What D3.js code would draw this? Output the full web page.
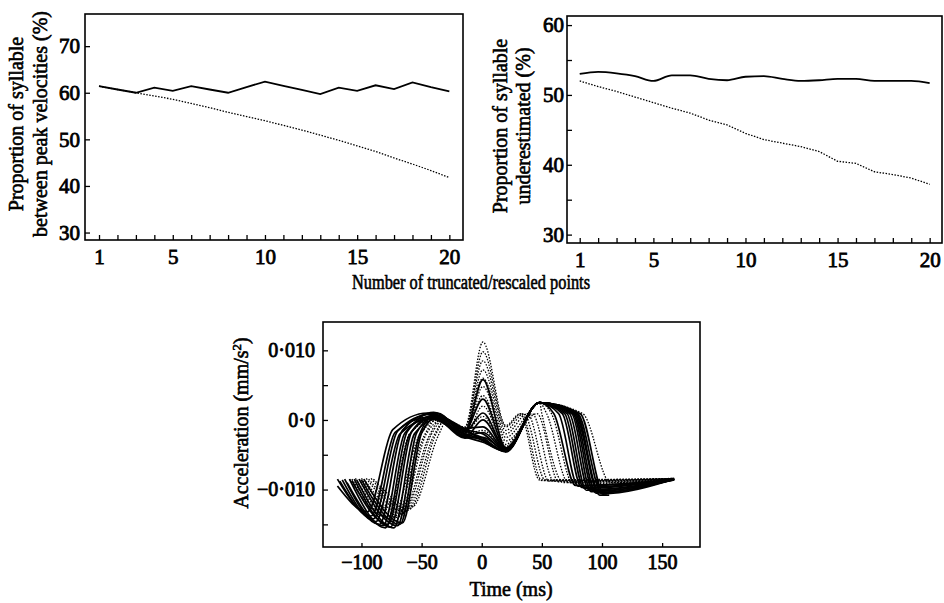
<!DOCTYPE html>
<html>
<head>
<meta charset="utf-8">
<script src="https://cdn.jsdelivr.net/npm/d3@7"></script>
<style>
  body { margin: 0; background: #fff; }
  svg { display: block; }
  text { font-family: "Liberation Serif", "Times New Roman", serif; fill: #000; }
</style>
</head>
<body>
<script>
// points truncated/rescaled (x axis of the two top panels)
var nPoints = d3.range(1, 21);

// top-left: proportion between peak velocities (%)
var peakVelSolid  = [61.4, 60.7, 60.0, 61.1, 60.4, 61.4, 60.7, 60.0, 61.2, 62.4, 61.5, 60.6, 59.7, 61.1, 60.4, 61.6, 60.8, 62.2, 61.2, 60.3];
var peakVelDotted = [61.4, 60.7, 60.0, 59.3, 58.6, 57.7, 56.8, 55.8, 54.9, 54.0, 53.0, 52.0, 50.9, 49.8, 48.6, 47.4, 46.0, 44.7, 43.3, 41.8];

// top-right: proportion underestimated (%)
var underSolid  = [53.0, 53.3, 53.1, 52.7, 52.0, 52.8, 52.8, 52.3, 52.1, 52.6, 52.7, 52.3, 52.0, 52.1, 52.3, 52.3, 52.0, 52.0, 52.0, 51.7];
var underDotted = [52.0, 51.2, 50.5, 49.7, 48.9, 48.1, 47.4, 46.4, 45.7, 44.5, 43.6, 43.1, 42.6, 41.9, 40.5, 40.2, 39.0, 38.6, 38.1, 37.2];

var leftYTicks  = [30, 40, 50, 60, 70];
var rightYTicks = [30, 35, 40, 45, 50, 55, 60];
var rightYLabels = [30, 40, 50, 60];
var xTickLabels = [1, 5, 10, 15, 20];

// bottom panel: acceleration traces, one entry per trace
var traceMethod = ["truncated","truncated","truncated","truncated","truncated","truncated","truncated","truncated","truncated","truncated","truncated","truncated","truncated",
                   "rescaled","rescaled","rescaled","rescaled","rescaled","rescaled","rescaled","rescaled","rescaled","rescaled"];
var traceStart  = [-120, -120, -118, -116, -114, -112, -110, -108, -106, -104, -102, -100, -98, -110, -108, -105, -102, -100, -98, -96, -94, -92, -90];
var traceStartY = [-0.0095, -0.0085, -0.0088, -0.0086, -0.0085, -0.0090, -0.0085, -0.0087, -0.0085, -0.0086, -0.0085, -0.0086, -0.0085,
                   -0.0085, -0.0085, -0.0084, -0.0085, -0.0084, -0.0085, -0.0084, -0.0085, -0.0084, -0.0085];
var traceMinT   = [-95, -92, -90, -88, -85, -82, -80, -78, -76, -73, -70, -68, -66, -78, -75, -72, -70, -68, -66, -64, -62, -60, -58];
var traceMinY   = [-0.0132, -0.0138, -0.0142, -0.0146, -0.0150, -0.0152, -0.0155, -0.0150, -0.0154, -0.0155, -0.0152, -0.0150, -0.0148,
                   -0.0140, -0.0142, -0.0145, -0.0140, -0.0138, -0.0135, -0.0132, -0.0130, -0.0128, -0.0125];
var traceRiseT  = [-74, -72, -70, -68, -66, -64, -62, -60, -58, -56, -54, -52, -50, -60, -52, -50, -48, -46, -44, -42, -40, -38, -36];
var traceRiseY  = [-0.0014, -0.0018, -0.0016, -0.0020, -0.0015, -0.0019, -0.0017, -0.0021, -0.0016, -0.0020, -0.0018, -0.0022, -0.0019,
                   -0.0020, -0.0022, -0.0019, -0.0023, -0.0020, -0.0024, -0.0021, -0.0023, -0.0020, -0.0022];
var tracePlatT  = [-45, -44, -43, -42, -42, -41, -40, -40, -39, -38, -38, -37, -37, -38, -37, -36, -35, -34, -33, -32, -31, -30, -29];
var tracePlatY  = [0.0010, 0.0004, 0.0008, 0.0002, 0.0009, 0.0005, 0.0011, 0.0003, 0.0007, 0.0001, 0.0006, 0.0010, 0.0004,
                   0.0002, 0.0006, 0.0000, 0.0004, -0.0001, 0.0003, 0.0000, -0.0002, 0.0002, -0.0001];
var tracePreY   = [-0.0013, -0.0020, -0.0016, -0.0024, -0.0014, -0.0022, -0.0012, -0.0026, -0.0017, -0.0023, -0.0015, -0.0019, -0.0025,
                   -0.0021, -0.0017, -0.0023, -0.0015, -0.0020, -0.0013, -0.0018, -0.0011, -0.0016, -0.0010];
var tracePeak0  = [-0.0030, -0.0028, -0.0026, -0.0032, -0.0020, -0.0029, -0.0010, -0.0025, 0.0010, -0.0018, 0.0030, 0.0058, 0.0000,
                   -0.0015, 0.0005, 0.0020, 0.0035, 0.0048, 0.0060, 0.0072, 0.0085, 0.0098, 0.0112];
var traceDip20  = [-0.0045, -0.0045, -0.0046, -0.0045, -0.0044, -0.0045, -0.0043, -0.0044, -0.0042, -0.0043, -0.0041, -0.0040, -0.0042,
                   -0.0040, -0.0040, -0.0038, -0.0035, -0.0030, -0.0025, -0.0020, -0.0015, -0.0010, -0.0008];
var traceFallT  = [82, 80, 79, 78, 77, 76, 75, 73, 71, 69, 67, 64, 60, 84, 58, 54, 50, 46, 42, 38, 35, 33, 32];
var traceBotT   = [102, 100, 98, 97, 95, 93, 91, 89, 87, 85, 83, 80, 78, 107, 76, 72, 68, 64, 60, 56, 53, 50, 48];
var traceBotY   = [-0.0108, -0.0106, -0.0108, -0.0104, -0.0105, -0.0102, -0.0103, -0.0100, -0.0101, -0.0098, -0.0097, -0.0095, -0.0094,
                   -0.0090, -0.0092, -0.0090, -0.0090, -0.0089, -0.0088, -0.0088, -0.0087, -0.0087, -0.0086];
var traceEndT   = [106, 160, 104, 160, 160, 160, 160, 160, 160, 160, 160, 160, 160, 160, 160, 160, 160, 160, 160, 160, 160, 160, 160];
var traceEndY   = [-0.0108, -0.0085, -0.0108, -0.0085, -0.0085, -0.0086, -0.0085, -0.0085, -0.0086, -0.0085, -0.0085, -0.0085, -0.0086,
                   -0.0084, -0.0085, -0.0085, -0.0084, -0.0085, -0.0084, -0.0085, -0.0084, -0.0085, -0.0084];
// shared levels: hump near 50 ms, fall start
var shapeLevels = [0.0025, 0.0009];

var accTicks = [-0.015, -0.010, -0.005, 0, 0.005, 0.010];
var accLabelValues = [-0.010, 0, 0.010];
var accLabels = ["\u22120\u00b7010", "0\u00b70", "0\u00b7010"];
var timeTicks = [-100, -50, 0, 50, 100, 150];

var W = 944, H = 603;
var svg = d3.select("body").append("svg").attr("width", W).attr("height", H);

function frame(g, x0, y0, x1, y1) {
  g.append("rect").attr("x", x0).attr("y", y0).attr("width", x1 - x0).attr("height", y1 - y0)
    .attr("fill", "none").attr("stroke", "#000").attr("stroke-width", 1.6);
}

function styleAxis(a, size) {
  a.select(".domain").remove();
  a.selectAll(".tick line").attr("stroke", "#000").attr("stroke-width", 1.3);
  a.selectAll(".tick text").attr("font-size", size).attr("fill", "#000")
    .attr("stroke", "#000").attr("stroke-width", 0.8);
}

function rotTitle(lines, xs, cy, size) {
  lines.forEach(function(t, i) {
    svg.append("text").attr("transform", "translate(" + xs[i] + "," + cy + ") rotate(-90)")
      .attr("text-anchor", "middle").attr("font-size", size)
      .attr("stroke", "#000").attr("stroke-width", 0.6).text(t);
  });
}

// ---------- top-left panel
var x1 = d3.scaleLinear().domain([0.24, 20.74]).range([85, 463]);
var y1 = d3.scaleLinear().domain([28.4, 76.9]).range([240, 14]);
var g1 = svg.append("g");

g1.append("g").attr("transform", "translate(0,240)")
  .call(d3.axisBottom(x1).tickValues(nPoints).tickSize(-5).tickPadding(9)
        .tickFormat(function(d) { return xTickLabels.indexOf(d) >= 0 ? d : ""; }))
  .call(styleAxis, 21);
g1.append("g").attr("transform", "translate(85,0)")
  .call(d3.axisLeft(y1).tickValues(leftYTicks).tickSize(-5).tickPadding(5))
  .call(styleAxis, 21);

var line1 = d3.line().x(function(d, i) { return x1(nPoints[i]); }).y(function(d) { return y1(d); });
g1.append("path").datum(peakVelDotted).attr("d", line1).attr("fill", "none")
  .attr("stroke", "#000").attr("stroke-width", 1.3).attr("stroke-dasharray", "1.5,1.5");
g1.append("path").datum(peakVelSolid).attr("d", line1).attr("fill", "none")
  .attr("stroke", "#000").attr("stroke-width", 1.8);
frame(g1, 85, 14, 463, 240);
rotTitle(["Proportion of syllable", "between peak velocities (%)"], [23, 47], 124, 20);

// ---------- top-right panel
var x2 = d3.scaleLinear().domain([0.31, 20.67]).range([567, 942]);
var y2 = d3.scaleLinear().domain([28.8, 61.3]).range([243, 16]);
var g2 = svg.append("g");

g2.append("g").attr("transform", "translate(0,243)")
  .call(d3.axisBottom(x2).tickValues(nPoints).tickSize(-5).tickPadding(9)
        .tickFormat(function(d) { return xTickLabels.indexOf(d) >= 0 ? d : ""; }))
  .call(styleAxis, 21);
g2.append("g").attr("transform", "translate(567,0)")
  .call(d3.axisLeft(y2).tickValues(rightYTicks).tickSize(-5).tickPadding(3)
        .tickFormat(function(d) { return rightYLabels.indexOf(d) >= 0 ? d : ""; }))
  .call(styleAxis, 21);

var line2 = d3.line().x(function(d, i) { return x2(nPoints[i]); }).y(function(d) { return y2(d); });
g2.append("path").datum(underDotted).attr("d", line2).attr("fill", "none")
  .attr("stroke", "#000").attr("stroke-width", 1.3).attr("stroke-dasharray", "1.5,1.5");
g2.append("path").datum(underSolid).attr("d", line2.curve(d3.curveMonotoneX)).attr("fill", "none")
  .attr("stroke", "#000").attr("stroke-width", 1.8);
frame(g2, 567, 16, 942, 243);
rotTitle(["Proportion of syllable", "underestimated (%)"], [507, 530], 126, 20);

svg.append("text").attr("x", 471).attr("y", 289).attr("text-anchor", "middle")
  .attr("font-size", 20).attr("textLength", 238).attr("lengthAdjust", "spacingAndGlyphs")
  .attr("stroke", "#000").attr("stroke-width", 0.6)
  .text("Number of truncated/rescaled points");

// ---------- bottom panel
var x3 = d3.scaleLinear().domain([-132, 181.5]).range([323, 700]);
var y3 = d3.scaleLinear().domain([-0.01825, 0.01407]).range([547, 322]);
var g3 = svg.append("g");

var clip = svg.append("clipPath").attr("id", "c3");
clip.append("rect").attr("x", 323).attr("y", 322).attr("width", 377).attr("height", 225);

function tracePoints(i) {
  var p = [[traceStart[i], traceStartY[i]], [traceMinT[i], traceMinY[i]],
           [traceRiseT[i], traceRiseY[i]], [tracePlatT[i], tracePlatY[i]],
           [-14, tracePreY[i]], [1, tracePeak0[i]], [20, traceDip20[i]]];
  if (traceFallT[i] > 48) p.push([48, shapeLevels[0]]);
  p.push([traceFallT[i], shapeLevels[1]], [traceBotT[i], traceBotY[i]]);
  if (traceEndT[i] > traceBotT[i]) p.push([traceEndT[i], traceEndY[i]]);
  return p;
}

var line3 = d3.line().x(function(d) { return x3(d[0]); }).y(function(d) { return y3(d[1]); })
  .curve(d3.curveMonotoneX);

g3.append("g").attr("clip-path", "url(#c3)").selectAll("path")
  .data(d3.range(traceMethod.length))
  .enter().append("path")
    .attr("d", function(i) { return line3(tracePoints(i)); })
    .attr("fill", "none").attr("stroke", "#000")
    .attr("stroke-width", function(i) { return traceMethod[i] === "truncated" ? 1.7 : 1.3; })
    .attr("stroke-dasharray", function(i) { return traceMethod[i] === "truncated" ? null : "1.5,1.5"; });

g3.append("g").attr("transform", "translate(0,547)")
  .call(d3.axisBottom(x3).tickValues(timeTicks).tickSize(-4).tickPadding(8)
        .tickFormat(function(d) { return d < 0 ? "\u2212" + Math.abs(d) : d; }))
  .call(styleAxis, 20);
g3.append("g").attr("transform", "translate(323,0)")
  .call(d3.axisLeft(y3).tickValues(accTicks).tickSize(-5).tickPadding(8)
        .tickFormat(function(d) {
          var k = accLabelValues.findIndex(function(v) { return Math.abs(v - d) < 1e-9; });
          return k >= 0 ? accLabels[k] : "";
        }))
  .call(styleAxis, 20);
frame(g3, 323, 322, 700, 547);

svg.append("text").attr("x", 511).attr("y", 596).attr("text-anchor", "middle")
  .attr("font-size", 20).attr("stroke", "#000").attr("stroke-width", 0.6).text("Time (ms)");
var acc = svg.append("text").attr("transform", "translate(248,423) rotate(-90)")
  .attr("text-anchor", "middle").attr("font-size", 20).attr("stroke", "#000").attr("stroke-width", 0.6);
acc.append("tspan").text("Acceleration (mm/s");
acc.append("tspan").attr("font-size", 13).attr("dy", -7).text("2");
acc.append("tspan").attr("dy", 7).text(")");
</script>
</body>
</html>
